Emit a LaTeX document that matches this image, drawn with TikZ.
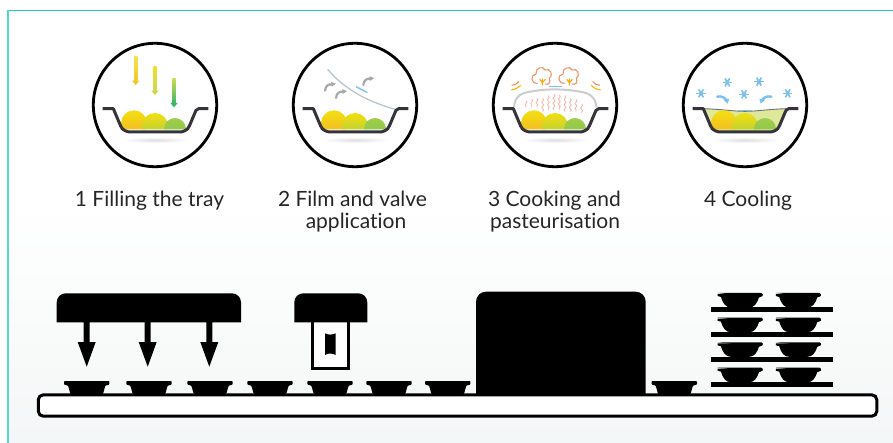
\documentclass[tikz,border=0pt]{standalone}
\usepackage{fontspec}
\setmainfont[Ligatures=NoCommon]{Lato}
\usetikzlibrary{decorations.pathmorphing}
\definecolor{teal1}{HTML}{1FC9BD}
\definecolor{bgl}{HTML}{F4F7F7}
\definecolor{traydark}{HTML}{35343A}
\definecolor{flakeblue}{HTML}{7CC0EC}
\definecolor{hookgrey}{HTML}{A8A8A8}
\definecolor{filmgrey}{HTML}{B9C4D0}
\definecolor{steamred}{HTML}{F4B3AB}
\definecolor{cloudor}{HTML}{F0956A}
\definecolor{foodAt}{HTML}{F3E010}
\definecolor{foodAb}{HTML}{F2B32A}
\definecolor{foodBt}{HTML}{F3DF10}
\definecolor{foodBb}{HTML}{A8CC45}
\definecolor{foodCt}{HTML}{A0CE4C}
\definecolor{foodCb}{HTML}{86C24A}
\definecolor{arrAt}{HTML}{F4E44B}
\definecolor{arrAb}{HTML}{F1C62A}
\definecolor{arrBt}{HTML}{F0E030}
\definecolor{arrBb}{HTML}{C9D94A}
\definecolor{arrCt}{HTML}{C9DB55}
\definecolor{arrCb}{HTML}{3DB765}
\definecolor{coolfill}{HTML}{DFE89A}
\tikzset{
  zoomed/.style={shift={(#1,30)},x=0.33333pt,y=-0.33333pt},
  caption/.style={anchor=base,inner sep=0pt,font=\fontsize{21}{24}\selectfont,text=black!85},
}
\newcommand{\traypath}{(68,236) -- (100,236) [rounded corners=2pt] -- (124,293) [rounded corners=5pt] -- (135,306) -- (315,306) [rounded corners=2pt] -- (326,293) -- (350,236) [sharp corners] -- (385,236)}
\newcommand{\trayicon}[3]{%
\begin{scope}[zoomed=#1]
  \draw[black,line width=2.8pt] (225,225) circle[radius=61.7pt];
  \shade[inner color=black!13,outer color=white,draw=none] (225,330) ellipse[x radius=34pt,y radius=3pt];
  #2
  \begin{scope}
    \clip (98,225) -- (126,298) -- (324,298) -- (352,225) -- cycle;
    \shade[top color=foodAt,bottom color=foodAb] (162,280) circle[radius=13pt];
    \shade[top color=foodBt,bottom color=foodBb] (225,288) circle[radius=13pt];
    \shade[top color=foodCt,bottom color=foodCb] (285,297) circle[radius=11pt];
  \end{scope}
  \draw[traydark,line width=3pt,line join=round] \traypath;
  #3
\end{scope}}
\newcommand{\fallarrow}[5]{%
  \shade[top color=#4,bottom color=#5] (#1-5,#2) rectangle (#1+5,#3-12);
  \fill[#5] (#1-11,#3-13) -- (#1+11,#3-13) -- (#1,#3) -- cycle;}
\newcommand{\hookmark}[3]{%
  \draw[#3,line width=2.2pt,line cap=round] (#1,#2+22) .. controls (#1+2,#2+6) and (#1+10,#2+2) .. (#1+24,#2+3);
  \fill[#3] (#1+18,#2-4) -- (#1+33,#2+1) -- (#1+20,#2+10) -- cycle;}
\newcommand{\flake}[2]{%
  \foreach \aa in {0,60,120}{\draw[flakeblue,line width=1.6pt,rotate around={\aa:(#1,#2)}] (#1-14,#2) -- (#1+14,#2);}
  \fill[flakeblue] (#1,#2) circle[radius=2.2pt];}
\newcommand{\cloudmark}[1]{%
  \begin{scope}[xshift=#1]
   \draw[cloudor,line width=1.1pt,line cap=round] (172,160) .. controls (152,160) and (150,135) .. (168,132) .. controls (165,113) and (190,106) .. (195,120) .. controls (210,112) and (222,135) .. (208,145) .. controls (214,160) and (204,165) .. (196,162);
   \draw[orange!70!yellow,line width=1.1pt] (187,166) -- (187,146) (187,158) -- (179,148) (187,158) -- (196,148);
  \end{scope}}
\newcommand{\steamline}[3]{\draw[steamred,line width=0.8pt,decorate,decoration={snake,amplitude=0.9pt,segment length=5pt}] (#1,#2) -- (#1,#3);}
\newcommand{\beltbowl}[1]{%
  \fill[black,rounded corners=0.8pt] (#1-22.7,381) -- (#1+22.7,381) -- (#1+22.7,384.6) -- (#1+18.6,385.6) -- (#1+16.3,394) -- (#1-16.3,394) -- (#1-18.6,385.6) -- (#1-22.7,384.6) -- cycle;}
\newcommand{\rackbowl}[2]{%
  \fill[black,rounded corners=1.2pt] (#1-22.5,#2) -- (#1+22.5,#2) -- (#1+22.5,#2+3) -- (#1+19,#2+4.5);
  \fill[black] (#1-22.5,#2+1) -- (#1+22.5,#2+1) -- (#1+22.5,#2+3) -- (#1+19,#2+4) .. controls (#1+17,#2+11) and (#1+14,#2+14.5) .. (#1+9,#2+14.5) -- (#1-9,#2+14.5) .. controls (#1-14,#2+14.5) and (#1-17,#2+11) .. (#1-19,#2+4) -- (#1-22.5,#2+3) -- cycle;}
\newcommand{\rackset}[2]{%
  \fill[black] (711,#1) rectangle (832.7,#2);}
\begin{document}
\begin{tikzpicture}[x=1pt,y=-1pt]
\useasboundingbox (0,0) rectangle (893,443);
\fill[white] (0,0) rectangle (893,443);
\shade[top color=white,bottom color=bgl,draw=none] (8,200) rectangle (893,443);
\draw[teal1,line width=1.5pt] (893,10.5) -- (8,10.5);
\draw[teal1!75!white,line width=1.7pt] (8,10) -- (8,443);

% icon 1
\trayicon{80}{}{%
  \fallarrow{167}{80}{165}{arrAt}{arrAb}
  \fallarrow{225}{110}{195}{arrBt}{arrBb}
  \fallarrow{282}{147}{232}{arrCt}{arrCb}
}
% icon 2
\trayicon{280}{%
  \draw[filmgrey,line width=1.3pt] (143,118) .. controls (195,180) and (265,215) .. (345,238);
  \draw[flakeblue,line width=1.4pt] (228,170) -- (262,188);
  \hookmark{135}{160}{hookgrey}
  \hookmark{168}{182}{hookgrey}
  \hookmark{250}{143}{hookgrey}
}{}
% icon 3
\trayicon{480}{%
  \draw[black!20,line width=2pt] (102,232) .. controls (105,200) and (120,190) .. (150,185) .. controls (200,176) and (250,176) .. (300,185) .. controls (330,190) and (345,200) .. (350,232);
  \draw[flakeblue,line width=1.3pt] (208,170) -- (245,170);
  \steamline{138}{212}{232}\steamline{155}{208}{232}\steamline{171}{205}{232}
  \steamline{188}{205}{245}\steamline{205}{197}{240}\steamline{222}{193}{240}
  \steamline{238}{195}{240}\steamline{255}{197}{245}\steamline{271}{205}{245}
  \steamline{288}{208}{245}\steamline{305}{222}{250}
  \cloudmark{0pt}
  \cloudmark{27pt}
  \draw[cloudor,line width=1.1pt] (95,166) .. controls (105,165) and (112,162) .. (117,154);
  \draw[orange!60!yellow,line width=1.1pt] (94,180) .. controls (105,178) and (115,174) .. (122,166);
  \draw[cloudor,line width=1.1pt] (360,166) .. controls (350,165) and (343,162) .. (338,154);
  \draw[orange!60!yellow,line width=1.1pt] (362,180) .. controls (350,178) and (340,174) .. (333,166);
}{}
% icon 4
\trayicon{670}{%
  \fill[coolfill] (100,236) .. controls (160,238) and (190,244) .. (225,244) .. controls (260,244) and (290,238) .. (350,236) -- (326,293) -- (315,306) -- (135,306) -- (124,293) -- cycle;
  \draw[traydark!70,line width=0.9pt] (100,236) .. controls (160,238) and (190,244) .. (225,244) .. controls (260,244) and (290,238) .. (350,236);
  \flake{172}{157}\flake{267}{155}\flake{93}{190}\flake{222}{193}\flake{353}{190}
  \draw[flakeblue,line width=2.4pt,line cap=round] (142,200) .. controls (155,197) and (166,203) .. (170,212);
  \fill[flakeblue] (160,209) -- (178,206) -- (173,221) -- cycle;
  \draw[flakeblue,line width=2.4pt,line cap=round] (304,200) .. controls (290,197) and (279,203) .. (276,212);
  \fill[flakeblue] (286,209) -- (268,206) -- (272,221) -- cycle;
}{%
  \draw[flakeblue,line width=1.6pt] (205,242) -- (245,242);
}

% captions
\node[caption] (cap1) at (149.5,207) {1 Filling the tray};
\node[caption] (cap2a) at (352.5,207) {2 Film and valve};
\node[caption] (cap2b) at (356,228.5) {application};
\node[caption] (cap3a) at (554.5,207) {3 Cooking and};
\node[caption] (cap3b) at (555,228.5) {pasteurisation};
\node[caption] (cap4) at (748,207) {4 Cooling};

% filling station
\fill[black,rounded corners=9pt] (56.7,322.3) -- (56.7,293.3) -- (241,293.3) [sharp corners] -- (241,322.3) -- cycle;
\foreach \xx in {86.7,147.7,209.3}{
  \fill[black] (\xx-3,322) -- (\xx+3,322) -- (\xx+3,342) -- (\xx+9,342) -- (\xx,366.7) -- (\xx-9,342) -- (\xx-3,342) -- cycle;
}
% film station
\draw[black,line width=3pt,fill=white] (312,320) rectangle (348,368);
\fill[black,rounded corners=9pt] (294.3,322.3) -- (294.3,293.3) -- (367.3,293.3) [sharp corners] -- (367.3,322.3) -- cycle;
\fill[black] (325,333.3) .. controls (328,335) and (332,335) .. (335.7,333.3) -- (335.7,355) .. controls (332,353) and (328,353) .. (325,355) -- cycle;

% oven
\fill[black,rounded corners=10pt] (476,396.7) -- (476,291.7) -- (645.7,291.7) [sharp corners] -- (645.7,396.7) -- cycle;

% racks
\foreach \ya/\yb in {307/312.3,332/337.3,356.7/362,382/387.3}{\rackset{\ya}{\yb}}
\foreach \yy in {293,317.7,342.3,367.7}{\rackbowl{740}{\yy}\rackbowl{798.3}{\yy}}

% conveyor
\draw[black,line width=3pt,fill=white,rounded corners=5pt] (38.3,394.8) rectangle (876.8,416.2);
\foreach \xx in {86.7,149,210,270,330,389,447.7,674.3}{\beltbowl{\xx}}
\end{tikzpicture}
\end{document}
